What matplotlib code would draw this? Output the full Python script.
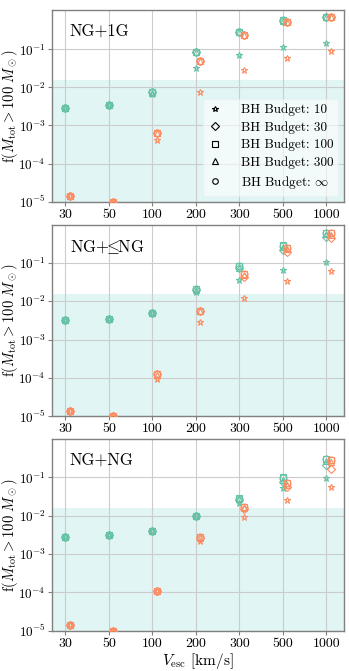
import matplotlib
matplotlib.use("Agg")
import matplotlib.pyplot as plt
from matplotlib.lines import Line2D
import numpy as np

# x categories (escape velocity) and BH budgets
vesc_labels = ['30', '50', '100', '200', '300', '500', '1000']
budget_labels = ['10', '30', '100', '300', r'$\infty$']
budget_markers = ['*', 'D', 's', '^', 'o']
panel_names = ['NG+1G', r'NG+$\!\!\leq\!\!$NG', 'NG+NG']

# rows: budget 10, 30, 100, 300, inf
ng1g_green = [
    [2.8e-3, 3.5e-3, 6.6e-3, 0.033, 0.070, 0.115, 0.145],
    [2.8e-3, 3.5e-3, 7.5e-3, 0.086, 0.29, 0.56, 0.72],
    [2.8e-3, 3.5e-3, 7.5e-3, 0.087, 0.29, 0.57, 0.72],
    [2.8e-3, 3.5e-3, 7.3e-3, 0.085, 0.28, 0.55, 0.71],
    [2.8e-3, 3.5e-3, 7.5e-3, 0.087, 0.29, 0.57, 0.72],
]
ng1g_orange = [
    [1.4e-5, 1.0e-5, 4.1e-4, 7.5e-3, 0.029, 0.060, 0.091],
    [1.4e-5, 1.0e-5, 6.4e-4, 0.050, 0.24, 0.52, 0.70],
    [1.4e-5, 1.0e-5, 6.4e-4, 0.050, 0.24, 0.52, 0.70],
    [1.4e-5, 1.0e-5, 6.2e-4, 0.049, 0.23, 0.51, 0.69],
    [1.4e-5, 1.0e-5, 6.4e-4, 0.050, 0.24, 0.52, 0.70],
]
ngle_green = [
    [3.3e-3, 3.4e-3, 4.8e-3, 0.017, 0.035, 0.067, 0.104],
    [3.3e-3, 3.4e-3, 4.9e-3, 0.020, 0.075, 0.22, 0.48],
    [3.3e-3, 3.4e-3, 4.9e-3, 0.021, 0.082, 0.29, 0.60],
    [3.3e-3, 3.4e-3, 4.9e-3, 0.020, 0.072, 0.26, 0.56],
    [3.3e-3, 3.4e-3, 4.9e-3, 0.021, 0.082, 0.28, 0.60],
]
ngle_orange = [
    [1.4e-5, 1.0e-5, 9.5e-5, 2.9e-3, 0.012, 0.034, 0.061],
    [1.4e-5, 1.0e-5, 1.3e-4, 5.5e-3, 0.044, 0.19, 0.45],
    [1.4e-5, 1.0e-5, 1.3e-4, 5.7e-3, 0.050, 0.25, 0.60],
    [1.4e-5, 1.0e-5, 1.2e-4, 5.5e-3, 0.048, 0.23, 0.55],
    [1.4e-5, 1.0e-5, 1.3e-4, 5.7e-3, 0.050, 0.25, 0.60],
]
ngng_green = [
    [2.8e-3, 3.1e-3, 4.0e-3, 0.0098, 0.022, 0.052, 0.098],
    [2.8e-3, 3.1e-3, 4.1e-3, 0.010, 0.026, 0.075, 0.21],
    [2.8e-3, 3.1e-3, 4.1e-3, 0.010, 0.029, 0.100, 0.31],
    [2.8e-3, 3.1e-3, 4.1e-3, 0.010, 0.027, 0.085, 0.27],
    [2.8e-3, 3.1e-3, 4.1e-3, 0.010, 0.028, 0.095, 0.31],
]
ngng_orange = [
    [1.4e-5, 1.0e-5, 1.1e-4, 2.2e-3, 0.0095, 0.026, 0.057],
    [1.4e-5, 1.0e-5, 1.1e-4, 2.6e-3, 0.015, 0.057, 0.17],
    [1.4e-5, 1.0e-5, 1.1e-4, 2.8e-3, 0.017, 0.072, 0.28],
    [1.4e-5, 1.0e-5, 1.1e-4, 2.6e-3, 0.016, 0.065, 0.25],
    [1.4e-5, 1.0e-5, 1.1e-4, 2.8e-3, 0.017, 0.070, 0.28],
]
panels = [(ng1g_green, ng1g_orange), (ngle_green, ngle_orange), (ngng_green, ngng_orange)]
panel_ytop = [1.07, 1.0, 1.0]
shade_top = 1.58e-2

green = '#66c2a5'
orange = '#fc8d62'

plt.rcParams['font.family'] = 'cmr10'
plt.rcParams['mathtext.fontset'] = 'cm'
plt.rcParams['axes.formatter.use_mathtext'] = True
plt.rcParams['axes.unicode_minus'] = False

fig, axes = plt.subplots(3, 1, figsize=(3.49, 6.71), dpi=100)
fig.subplots_adjust(left=0.149, right=0.986, top=0.985, bottom=0.06, hspace=0.12)

x = np.arange(len(vesc_labels))
for ax, (gdata, odata), name, ytop in zip(axes, panels, panel_names, panel_ytop):
    ax.set_yscale('log')
    ax.axhspan(1e-5, shade_top, color='#e0f5f4', zorder=0, lw=0)
    for vals, offset, col in [(gdata, 0.0, green), (odata, 0.1, orange)]:
        for row, mk in zip(vals, budget_markers):
            ms = 4.5 if mk in ('*', 'D') else 5
            ax.plot(x + offset, row, ls='none', marker=mk, ms=ms, mfc='none',
                    mec=col, mew=0.8, zorder=3)
    ax.set_xlim(-0.305, 6.405)
    ax.set_ylim(1e-5, ytop)
    ax.set_xticks(x)
    ax.set_xticklabels(vesc_labels)
    ax.set_yticks([1e-5, 1e-4, 1e-3, 1e-2, 1e-1])
    ax.minorticks_off()
    ax.tick_params(axis='x', labelsize=10, length=3, width=0.8, color='#808080', pad=2)
    ax.tick_params(axis='y', labelsize=9.5, length=3, width=0.8, color='#808080', pad=1.5)
    ax.grid(True, color='#cccccc', lw=0.8, zorder=1)
    ax.set_axisbelow(True)
    for sp in ax.spines.values():
        sp.set_color('#808080')
        sp.set_linewidth(1.0)
    ax.set_ylabel(r'f$(M_{\rm tot} > 100~M_\odot)$', fontsize=10.5, labelpad=0)
    ax.yaxis.set_label_coords(-0.108, 0.5)
    ax.text(0.06, 0.93, name, transform=ax.transAxes, fontsize=12, va='top', ha='left')

handles = [Line2D([], [], ls='none', marker=mk, ms=4, mfc='none', mec='black', mew=0.8)
           for mk in budget_markers]
leg = axes[0].legend(handles, ['BH Budget: ' + b for b in budget_labels], loc='lower right',
                     fontsize=9.5, frameon=True, handlelength=1.0, borderpad=0.35,
                     labelspacing=0.38, handletextpad=1.5, borderaxespad=0.45)
leg.get_frame().set_facecolor('white')
leg.get_frame().set_edgecolor('#e8f0f0')
leg.get_frame().set_alpha(0.6)

axes[2].set_xlabel(r'$V_{\rm esc}$ [km/s]', fontsize=11, labelpad=1)

fig.savefig('out.png', dpi=100)
